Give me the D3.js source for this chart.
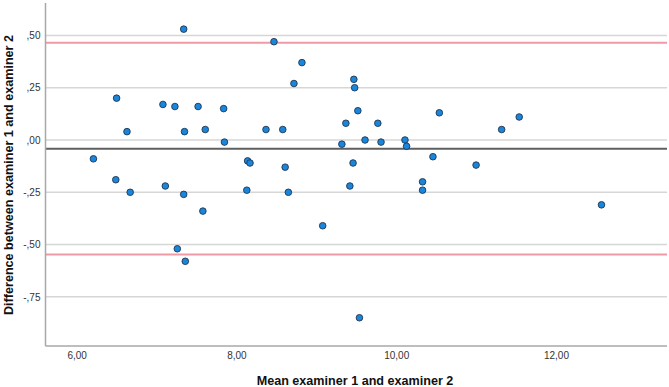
<!DOCTYPE html>
<html>
<head>
<meta charset="utf-8">
<script src="https://cdn.jsdelivr.net/npm/d3@7"></script>
<style>
  html, body { margin: 0; padding: 0; background: #fff; }
  svg { display: block; font-family: "Liberation Sans", Arial, sans-serif; }
</style>
</head>
<body>
<svg id="chart" width="669" height="387"></svg>
<script>
// Data: mean of examiners (x) and difference (y)
const meanValues = [6.21, 6.49, 6.50, 6.63, 6.67, 7.08, 7.11, 7.23, 7.26, 7.34,
  7.35, 7.34, 7.36, 7.52, 7.58, 7.61, 7.84, 7.85, 8.13, 8.14,
  8.17, 8.37, 8.47, 8.58, 8.61, 8.65, 8.72, 8.82, 9.08, 9.32,
  9.37, 9.42, 9.46, 9.47, 9.48, 9.52, 9.54, 9.61, 9.77, 9.81,
  10.11, 10.13, 10.33, 10.33, 10.46, 10.54, 11.00, 11.32, 11.54, 12.57];
const diffValues = [-0.09, -0.19, 0.20, 0.04, -0.25, 0.17, -0.22, 0.16, -0.52, 0.53,
  0.04, -0.26, -0.58, 0.16, -0.34, 0.05, 0.15, -0.01, -0.24, -0.10,
  -0.11, 0.05, 0.47, 0.05, -0.13, -0.25, 0.27, 0.37, -0.41, -0.02,
  0.08, -0.22, -0.11, 0.29, 0.25, 0.14, -0.85, 0.00, 0.08, -0.01,
  0.00, -0.03, -0.20, -0.24, -0.08, 0.13, -0.12, 0.05, 0.11, -0.31];
const meanDiff = [-0.0415];
const limitsOfAgreement = [0.465, -0.548];
const xTicks = [6, 8, 10, 12];
const yTicks = [0.5, 0.25, 0, -0.25, -0.5, -0.75];
const xTitle = "Mean examiner 1 and examiner 2";
const yTitle = "Difference between examiner 1 and examiner 2";

const svg = d3.select("#chart");
const pL = 45.5, pR = 667, pT = 3, pB = 346;

const x = d3.scaleLinear().domain([5.61, 13.39]).range([pL, pR]);
const y = d3.scaleLinear().domain([-0.985, 0.655]).range([pB, pT]);

const fmt = v => {
  const s = Math.abs(v).toFixed(2).replace(".", ",").replace(/^0,/, ",");
  return (v < 0 ? "-" : "") + s;
};

// gridlines
svg.append("g").selectAll("line").data(yTicks).join("line")
  .attr("x1", pL).attr("x2", pR)
  .attr("y1", d => y(d)).attr("y2", d => y(d))
  .attr("stroke", "#d6d6d6").attr("stroke-width", 1.5);

// limits of agreement
svg.append("g").selectAll("line").data(limitsOfAgreement).join("line")
  .attr("x1", pL).attr("x2", pR)
  .attr("y1", d => y(d)).attr("y2", d => y(d))
  .attr("stroke", "#f09aa6").attr("stroke-width", 2);

// mean difference
svg.append("g").selectAll("line").data(meanDiff).join("line")
  .attr("x1", pL).attr("x2", pR)
  .attr("y1", d => y(d)).attr("y2", d => y(d))
  .attr("stroke", "#5f5f5f").attr("stroke-width", 2);

// axes
const yAxis = d3.axisLeft(y).tickValues(yTicks).tickFormat(fmt).tickSize(0).tickPadding(5);
const gy = svg.append("g").attr("transform", `translate(${pL},0)`).call(yAxis);
gy.select(".domain").attr("stroke", "#a8a8a8").attr("stroke-width", 1.5)
  .attr("d", `M0,${pT}V${pB}`);
gy.selectAll("text").attr("fill", "#333").style("font-size", "10px");

const xAxis = d3.axisBottom(x).tickValues(xTicks).tickFormat(fmt).tickSize(0).tickPadding(6);
const gx = svg.append("g").attr("transform", `translate(0,${pB})`).call(xAxis);
gx.select(".domain").attr("stroke", "#a8a8a8").attr("stroke-width", 1.5)
  .attr("d", `M${pL},0H${pR}`);
gx.selectAll("text").attr("fill", "#333").style("font-size", "10px");

// points
const pts = meanValues.map((m, i) => ({ m, d: diffValues[i] }));
svg.append("g").selectAll("circle").data(pts).join("circle")
  .attr("cx", d => x(d.m)).attr("cy", d => y(d.d)).attr("r", 3.3)
  .attr("fill", "#1a86db").attr("stroke", "#1f3550").attr("stroke-width", 0.9);

// titles
svg.append("text").attr("x", 355).attr("y", 385)
  .attr("text-anchor", "middle").attr("font-weight", "bold")
  .attr("font-size", "12.6px").attr("fill", "#111").text(xTitle);
svg.append("text").attr("transform", "translate(12.5,175) rotate(-90)")
  .attr("text-anchor", "middle").attr("font-weight", "bold")
  .attr("font-size", "12.6px").attr("fill", "#111").text(yTitle);
</script>
</body>
</html>
